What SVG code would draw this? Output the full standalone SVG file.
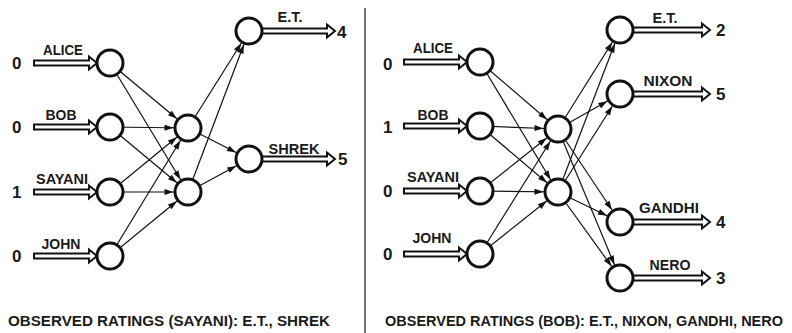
<svg xmlns="http://www.w3.org/2000/svg" xmlns:xlink="http://www.w3.org/1999/xlink" width="792" height="333" viewBox="0 0 792 333">
<style>
text{font-family:"Liberation Sans",Arial,sans-serif;font-weight:bold;fill:#1a1a1a}
.lbl{font-size:15px;text-anchor:middle}
.dig{font-size:17px}
.cap{font-size:14px}
circle{fill:#fff;stroke:#111;stroke-width:3}
.c line{stroke:#111;stroke-width:1.2;marker-end:url(#ah)}
.dbl{fill:#fff;stroke:#111;stroke-width:2;stroke-linejoin:miter}
</style>
<defs>
<marker id="ah" markerUnits="userSpaceOnUse" markerWidth="10" markerHeight="8" refX="23.5" refY="3" orient="auto" overflow="visible"><path d="M0,0 L9,3 L0,6 z" fill="#111"/></marker>
<path id="inA" class="dbl" d="M0,-2.5 H55 V-6.5 L63,0 L55,6.5 V2.5 H0 Z"/>
<path id="outL" class="dbl" d="M0,-2.5 H65 V-6.5 L73,0 L65,6.5 V2.5 H0 Z"/>
<path id="outR" class="dbl" d="M0,-2.5 H69 V-6.5 L77,0 L69,6.5 V2.5 H0 Z"/>
</defs>
<rect width="792" height="333" fill="#fff"/>
<line x1="365" y1="8" x2="365" y2="333" stroke="#444" stroke-width="1.5"/>
<g id="connectors" class="c">
<line x1="110" y1="63" x2="188" y2="128"/>
<line x1="110" y1="63" x2="188" y2="192"/>
<line x1="110" y1="127" x2="188" y2="128"/>
<line x1="110" y1="127" x2="188" y2="192"/>
<line x1="110" y1="192" x2="188" y2="128"/>
<line x1="110" y1="192" x2="188" y2="192"/>
<line x1="110" y1="256" x2="188" y2="128"/>
<line x1="110" y1="256" x2="188" y2="192"/>
<line x1="188" y1="128" x2="249" y2="31"/>
<line x1="188" y1="128" x2="249" y2="159"/>
<line x1="188" y1="192" x2="249" y2="31"/>
<line x1="188" y1="192" x2="249" y2="159"/>
<line x1="480" y1="62" x2="558" y2="129"/>
<line x1="480" y1="62" x2="558" y2="192"/>
<line x1="480" y1="126" x2="558" y2="129"/>
<line x1="480" y1="126" x2="558" y2="192"/>
<line x1="480" y1="191" x2="558" y2="129"/>
<line x1="480" y1="191" x2="558" y2="192"/>
<line x1="480" y1="254" x2="558" y2="129"/>
<line x1="480" y1="254" x2="558" y2="192"/>
<line x1="558" y1="129" x2="620" y2="30"/>
<line x1="558" y1="129" x2="620" y2="94"/>
<line x1="558" y1="129" x2="620" y2="222"/>
<line x1="558" y1="129" x2="620" y2="278"/>
<line x1="558" y1="192" x2="620" y2="30"/>
<line x1="558" y1="192" x2="620" y2="94"/>
<line x1="558" y1="192" x2="620" y2="222"/>
<line x1="558" y1="192" x2="620" y2="278"/>
</g>
<!-- left network -->
<g id="l-alice"><use xlink:href="#inA" x="34" y="63"/><text class="lbl" x="63" y="55" textLength="40" lengthAdjust="spacingAndGlyphs">ALICE</text><text class="dig" x="12" y="69">0</text><circle cx="110" cy="63" r="13"/></g>
<g id="l-bob"><use xlink:href="#inA" x="34" y="127"/><text class="lbl" x="61" y="120" textLength="31" lengthAdjust="spacingAndGlyphs">BOB</text><text class="dig" x="12" y="133">0</text><circle cx="110" cy="127" r="13"/></g>
<g id="l-sayani"><use xlink:href="#inA" x="34" y="192"/><text class="lbl" x="62" y="184" textLength="52" lengthAdjust="spacingAndGlyphs">SAYANI</text><text class="dig" x="12" y="198">1</text><circle cx="110" cy="192" r="13"/></g>
<g id="l-john"><use xlink:href="#inA" x="34" y="256"/><text class="lbl" x="61" y="249" textLength="39" lengthAdjust="spacingAndGlyphs">JOHN</text><text class="dig" x="12" y="262">0</text><circle cx="110" cy="256" r="13"/></g>
<g id="l-h1"><circle cx="188" cy="128" r="13"/></g>
<g id="l-h2"><circle cx="188" cy="192" r="13"/></g>
<g id="l-et"><use xlink:href="#outL" x="262" y="31"/><text class="lbl" x="290" y="22" textLength="25" lengthAdjust="spacingAndGlyphs">E.T.</text><text class="dig" x="337" y="38">4</text><circle cx="249" cy="31" r="13"/></g>
<g id="l-shrek"><use xlink:href="#outL" x="262" y="159"/><text class="lbl" x="294" y="154" textLength="51" lengthAdjust="spacingAndGlyphs">SHREK</text><text class="dig" x="338" y="165">5</text><circle cx="249" cy="159" r="13"/></g>
<!-- right network -->
<g id="r-alice"><use xlink:href="#inA" x="404" y="62"/><text class="lbl" x="433" y="53" textLength="40" lengthAdjust="spacingAndGlyphs">ALICE</text><text class="dig" x="383" y="70">0</text><circle cx="480" cy="62" r="13"/></g>
<g id="r-bob"><use xlink:href="#inA" x="404" y="126"/><text class="lbl" x="433" y="120" textLength="31" lengthAdjust="spacingAndGlyphs">BOB</text><text class="dig" x="383" y="133">1</text><circle cx="480" cy="126" r="13"/></g>
<g id="r-sayani"><use xlink:href="#inA" x="404" y="191"/><text class="lbl" x="433" y="182" textLength="52" lengthAdjust="spacingAndGlyphs">SAYANI</text><text class="dig" x="383" y="197">0</text><circle cx="480" cy="191" r="13"/></g>
<g id="r-john"><use xlink:href="#inA" x="404" y="254"/><text class="lbl" x="432" y="243" textLength="39" lengthAdjust="spacingAndGlyphs">JOHN</text><text class="dig" x="383" y="260">0</text><circle cx="480" cy="254" r="13"/></g>
<g id="r-h1"><circle cx="558" cy="129" r="13"/></g>
<g id="r-h2"><circle cx="558" cy="192" r="13"/></g>
<g id="r-et"><use xlink:href="#outR" x="633" y="30"/><text class="lbl" x="665" y="23" textLength="25" lengthAdjust="spacingAndGlyphs">E.T.</text><text class="dig" x="716" y="36">2</text><circle cx="620" cy="30" r="13"/></g>
<g id="r-nixon"><use xlink:href="#outR" x="633" y="94"/><text class="lbl" x="668" y="86" textLength="49" lengthAdjust="spacingAndGlyphs">NIXON</text><text class="dig" x="716" y="100">5</text><circle cx="620" cy="94" r="13"/></g>
<g id="r-gandhi"><use xlink:href="#outR" x="633" y="222"/><text class="lbl" x="669" y="213" textLength="60" lengthAdjust="spacingAndGlyphs">GANDHI</text><text class="dig" x="716" y="228">4</text><circle cx="620" cy="222" r="13"/></g>
<g id="r-nero"><use xlink:href="#outR" x="633" y="278"/><text class="lbl" x="670" y="270" textLength="41" lengthAdjust="spacingAndGlyphs">NERO</text><text class="dig" x="716" y="284">3</text><circle cx="620" cy="278" r="13"/></g>
<text class="cap" x="8" y="326" textLength="322" lengthAdjust="spacingAndGlyphs">OBSERVED RATINGS (SAYANI):  E.T., SHREK</text>
<text class="cap" x="385" y="326" textLength="398" lengthAdjust="spacingAndGlyphs">OBSERVED RATINGS (BOB):  E.T., NIXON, GANDHI, NERO</text>
</svg>
